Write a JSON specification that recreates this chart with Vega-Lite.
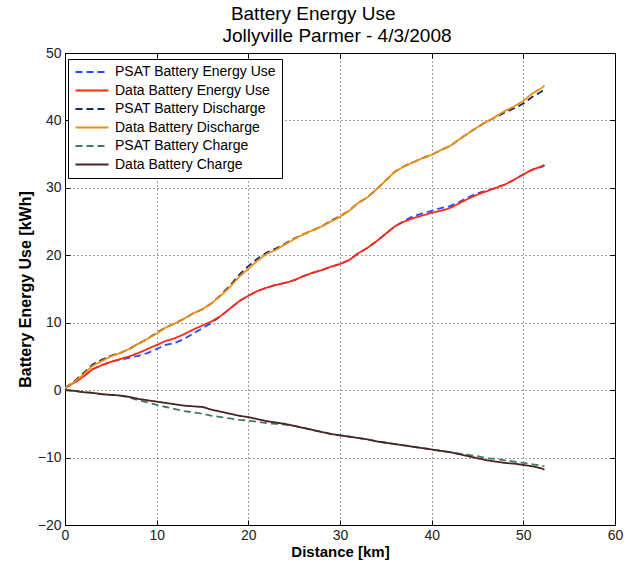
{
  "$schema": "https://vega.github.io/schema/vega-lite/v6.json",
  "width": 550,
  "height": 472,
  "autosize": {"type": "none"},
  "padding": {"left": 65, "top": 53, "right": 13, "bottom": 40},
  "background": "white",
  "title": {
    "text": ["Battery Energy Use\u2002\u2002\u2002\u2002\u2002\u2060", "Jollyville Parmer - 4/3/2008"],
    "fontSize": 19,
    "font": "Liberation Sans",
    "fontWeight": "normal",
    "color": "black",
    "lineHeight": 22,
    "offset": 0,
    "dx": -3,
    "anchor": "middle"
  },
  "config": {
    "view": {"stroke": "black", "strokeWidth": 1},
    "axis": {
      "domainColor": "black",
      "tickColor": "black",
      "tickSize": -5,
      "labelFont": "Liberation Sans",
      "labelFontSize": 14,
      "labelColor": "#222222",
      "labelFlush": false,
      "titleFont": "Liberation Sans",
      "titleFontSize": 15,
      "titleFontWeight": "bold",
      "titleColor": "black",
      "gridColor": "black",
      "gridDash": [1, 3],
      "gridOpacity": 0.75
    },
    "legend": {
      "orient": "none",
      "legendX": 3,
      "legendY": 6,
      "strokeColor": "black",
      "fillColor": "white",
      "padding": 6,
      "labelFont": "Liberation Sans",
      "labelFontSize": 14,
      "labelColor": "black",
      "labelLimit": 400,
      "symbolType": "M-1,0H5",
      "symbolSize": 121,
      "symbolStrokeWidth": 2,
      "symbolFillColor": "transparent",
      "labelOffset": 27,
      "rowPadding": 4.5
    }
  },
  "data": {
    "values": [
      {"s":"PSAT Battery Energy Use","x":0,"y":0.3},{"s":"PSAT Battery Energy Use","x":1,"y":1.1},{"s":"PSAT Battery Energy Use","x":2,"y":2.0},{"s":"PSAT Battery Energy Use","x":3,"y":3.1},{"s":"PSAT Battery Energy Use","x":4,"y":3.7},{"s":"PSAT Battery Energy Use","x":5,"y":4.2},{"s":"PSAT Battery Energy Use","x":6,"y":4.5},{"s":"PSAT Battery Energy Use","x":7,"y":4.8},{"s":"PSAT Battery Energy Use","x":8,"y":5.1},{"s":"PSAT Battery Energy Use","x":9,"y":5.5},{"s":"PSAT Battery Energy Use","x":10,"y":6.1},{"s":"PSAT Battery Energy Use","x":11,"y":6.7},{"s":"PSAT Battery Energy Use","x":12,"y":7.0},{"s":"PSAT Battery Energy Use","x":13,"y":7.6},{"s":"PSAT Battery Energy Use","x":14,"y":8.4},{"s":"PSAT Battery Energy Use","x":15,"y":9.2},{"s":"PSAT Battery Energy Use","x":16,"y":10.0},{"s":"PSAT Battery Energy Use","x":17,"y":11.0},{"s":"PSAT Battery Energy Use","x":18,"y":12.1},{"s":"PSAT Battery Energy Use","x":19,"y":13.2},{"s":"PSAT Battery Energy Use","x":20,"y":14.0},{"s":"PSAT Battery Energy Use","x":21,"y":14.7},{"s":"PSAT Battery Energy Use","x":22,"y":15.2},{"s":"PSAT Battery Energy Use","x":23,"y":15.6},{"s":"PSAT Battery Energy Use","x":24,"y":15.9},{"s":"PSAT Battery Energy Use","x":25,"y":16.3},{"s":"PSAT Battery Energy Use","x":26,"y":16.9},{"s":"PSAT Battery Energy Use","x":27,"y":17.4},{"s":"PSAT Battery Energy Use","x":28,"y":17.8},{"s":"PSAT Battery Energy Use","x":29,"y":18.3},{"s":"PSAT Battery Energy Use","x":30,"y":18.7},{"s":"PSAT Battery Energy Use","x":31,"y":19.3},{"s":"PSAT Battery Energy Use","x":32,"y":20.3},{"s":"PSAT Battery Energy Use","x":33,"y":21.1},{"s":"PSAT Battery Energy Use","x":34,"y":22.1},{"s":"PSAT Battery Energy Use","x":35,"y":23.2},{"s":"PSAT Battery Energy Use","x":36,"y":24.3},{"s":"PSAT Battery Energy Use","x":37,"y":25.1},{"s":"PSAT Battery Energy Use","x":38,"y":25.8},{"s":"PSAT Battery Energy Use","x":39,"y":26.2},{"s":"PSAT Battery Energy Use","x":40,"y":26.6},{"s":"PSAT Battery Energy Use","x":41,"y":27.0},{"s":"PSAT Battery Energy Use","x":42,"y":27.3},{"s":"PSAT Battery Energy Use","x":43,"y":27.9},{"s":"PSAT Battery Energy Use","x":44,"y":28.6},{"s":"PSAT Battery Energy Use","x":45,"y":29.2},{"s":"PSAT Battery Energy Use","x":46,"y":29.6},{"s":"PSAT Battery Energy Use","x":47,"y":30.0},{"s":"PSAT Battery Energy Use","x":48,"y":30.5},{"s":"PSAT Battery Energy Use","x":49,"y":31.2},{"s":"PSAT Battery Energy Use","x":50,"y":32.0},{"s":"PSAT Battery Energy Use","x":51,"y":32.7},{"s":"PSAT Battery Energy Use","x":52,"y":33.1},{"s":"PSAT Battery Energy Use","x":52.3,"y":33.3},
      {"s":"Data Battery Energy Use","x":0,"y":0.3},{"s":"Data Battery Energy Use","x":1,"y":1.1},{"s":"Data Battery Energy Use","x":2,"y":2.0},{"s":"Data Battery Energy Use","x":3,"y":3.1},{"s":"Data Battery Energy Use","x":4,"y":3.7},{"s":"Data Battery Energy Use","x":5,"y":4.2},{"s":"Data Battery Energy Use","x":6,"y":4.6},{"s":"Data Battery Energy Use","x":7,"y":5.0},{"s":"Data Battery Energy Use","x":8,"y":5.5},{"s":"Data Battery Energy Use","x":9,"y":6.1},{"s":"Data Battery Energy Use","x":10,"y":6.7},{"s":"Data Battery Energy Use","x":11,"y":7.3},{"s":"Data Battery Energy Use","x":12,"y":7.7},{"s":"Data Battery Energy Use","x":13,"y":8.3},{"s":"Data Battery Energy Use","x":14,"y":9.0},{"s":"Data Battery Energy Use","x":15,"y":9.6},{"s":"Data Battery Energy Use","x":16,"y":10.2},{"s":"Data Battery Energy Use","x":17,"y":11.0},{"s":"Data Battery Energy Use","x":18,"y":12.1},{"s":"Data Battery Energy Use","x":19,"y":13.2},{"s":"Data Battery Energy Use","x":20,"y":14.0},{"s":"Data Battery Energy Use","x":21,"y":14.7},{"s":"Data Battery Energy Use","x":22,"y":15.2},{"s":"Data Battery Energy Use","x":23,"y":15.6},{"s":"Data Battery Energy Use","x":24,"y":15.9},{"s":"Data Battery Energy Use","x":25,"y":16.3},{"s":"Data Battery Energy Use","x":26,"y":16.9},{"s":"Data Battery Energy Use","x":27,"y":17.4},{"s":"Data Battery Energy Use","x":28,"y":17.8},{"s":"Data Battery Energy Use","x":29,"y":18.3},{"s":"Data Battery Energy Use","x":30,"y":18.7},{"s":"Data Battery Energy Use","x":31,"y":19.3},{"s":"Data Battery Energy Use","x":32,"y":20.3},{"s":"Data Battery Energy Use","x":33,"y":21.1},{"s":"Data Battery Energy Use","x":34,"y":22.1},{"s":"Data Battery Energy Use","x":35,"y":23.2},{"s":"Data Battery Energy Use","x":36,"y":24.3},{"s":"Data Battery Energy Use","x":37,"y":25.0},{"s":"Data Battery Energy Use","x":38,"y":25.5},{"s":"Data Battery Energy Use","x":39,"y":25.9},{"s":"Data Battery Energy Use","x":40,"y":26.3},{"s":"Data Battery Energy Use","x":41,"y":26.6},{"s":"Data Battery Energy Use","x":42,"y":27.0},{"s":"Data Battery Energy Use","x":43,"y":27.7},{"s":"Data Battery Energy Use","x":44,"y":28.4},{"s":"Data Battery Energy Use","x":45,"y":29.0},{"s":"Data Battery Energy Use","x":46,"y":29.5},{"s":"Data Battery Energy Use","x":47,"y":30.0},{"s":"Data Battery Energy Use","x":48,"y":30.5},{"s":"Data Battery Energy Use","x":49,"y":31.2},{"s":"Data Battery Energy Use","x":50,"y":32.0},{"s":"Data Battery Energy Use","x":51,"y":32.7},{"s":"Data Battery Energy Use","x":52,"y":33.2},{"s":"Data Battery Energy Use","x":52.3,"y":33.4},
      {"s":"PSAT Battery Discharge","x":0,"y":0.3},{"s":"PSAT Battery Discharge","x":1,"y":1.3},{"s":"PSAT Battery Discharge","x":2,"y":2.5},{"s":"PSAT Battery Discharge","x":3,"y":3.8},{"s":"PSAT Battery Discharge","x":4,"y":4.5},{"s":"PSAT Battery Discharge","x":5,"y":5.1},{"s":"PSAT Battery Discharge","x":6,"y":5.5},{"s":"PSAT Battery Discharge","x":7,"y":6.1},{"s":"PSAT Battery Discharge","x":8,"y":6.9},{"s":"PSAT Battery Discharge","x":9,"y":7.6},{"s":"PSAT Battery Discharge","x":10,"y":8.5},{"s":"PSAT Battery Discharge","x":11,"y":9.3},{"s":"PSAT Battery Discharge","x":12,"y":9.9},{"s":"PSAT Battery Discharge","x":13,"y":10.6},{"s":"PSAT Battery Discharge","x":14,"y":11.4},{"s":"PSAT Battery Discharge","x":15,"y":12.0},{"s":"PSAT Battery Discharge","x":16,"y":12.9},{"s":"PSAT Battery Discharge","x":17,"y":14.1},{"s":"PSAT Battery Discharge","x":18,"y":15.5},{"s":"PSAT Battery Discharge","x":19,"y":17.1},{"s":"PSAT Battery Discharge","x":20,"y":18.4},{"s":"PSAT Battery Discharge","x":21,"y":19.5},{"s":"PSAT Battery Discharge","x":22,"y":20.4},{"s":"PSAT Battery Discharge","x":23,"y":21.0},{"s":"PSAT Battery Discharge","x":24,"y":21.7},{"s":"PSAT Battery Discharge","x":25,"y":22.5},{"s":"PSAT Battery Discharge","x":26,"y":23.1},{"s":"PSAT Battery Discharge","x":27,"y":23.7},{"s":"PSAT Battery Discharge","x":28,"y":24.3},{"s":"PSAT Battery Discharge","x":29,"y":25.1},{"s":"PSAT Battery Discharge","x":30,"y":25.8},{"s":"PSAT Battery Discharge","x":31,"y":26.6},{"s":"PSAT Battery Discharge","x":32,"y":27.8},{"s":"PSAT Battery Discharge","x":33,"y":28.6},{"s":"PSAT Battery Discharge","x":34,"y":29.8},{"s":"PSAT Battery Discharge","x":35,"y":31.1},{"s":"PSAT Battery Discharge","x":36,"y":32.4},{"s":"PSAT Battery Discharge","x":37,"y":33.2},{"s":"PSAT Battery Discharge","x":38,"y":33.8},{"s":"PSAT Battery Discharge","x":39,"y":34.4},{"s":"PSAT Battery Discharge","x":40,"y":34.9},{"s":"PSAT Battery Discharge","x":41,"y":35.6},{"s":"PSAT Battery Discharge","x":42,"y":36.2},{"s":"PSAT Battery Discharge","x":43,"y":37.2},{"s":"PSAT Battery Discharge","x":44,"y":38.1},{"s":"PSAT Battery Discharge","x":45,"y":39.0},{"s":"PSAT Battery Discharge","x":46,"y":39.8},{"s":"PSAT Battery Discharge","x":47,"y":40.5},{"s":"PSAT Battery Discharge","x":48,"y":41.2},{"s":"PSAT Battery Discharge","x":49,"y":41.8},{"s":"PSAT Battery Discharge","x":50,"y":42.5},{"s":"PSAT Battery Discharge","x":51,"y":43.5},{"s":"PSAT Battery Discharge","x":52,"y":44.3},{"s":"PSAT Battery Discharge","x":52.3,"y":44.7},
      {"s":"Data Battery Discharge","x":0,"y":0.3},{"s":"Data Battery Discharge","x":1,"y":1.2},{"s":"Data Battery Discharge","x":2,"y":2.3},{"s":"Data Battery Discharge","x":3,"y":3.6},{"s":"Data Battery Discharge","x":4,"y":4.3},{"s":"Data Battery Discharge","x":5,"y":5.0},{"s":"Data Battery Discharge","x":6,"y":5.5},{"s":"Data Battery Discharge","x":7,"y":6.1},{"s":"Data Battery Discharge","x":8,"y":6.9},{"s":"Data Battery Discharge","x":9,"y":7.6},{"s":"Data Battery Discharge","x":10,"y":8.4},{"s":"Data Battery Discharge","x":11,"y":9.3},{"s":"Data Battery Discharge","x":12,"y":9.9},{"s":"Data Battery Discharge","x":13,"y":10.6},{"s":"Data Battery Discharge","x":14,"y":11.4},{"s":"Data Battery Discharge","x":15,"y":12.0},{"s":"Data Battery Discharge","x":16,"y":12.9},{"s":"Data Battery Discharge","x":17,"y":14.0},{"s":"Data Battery Discharge","x":18,"y":15.3},{"s":"Data Battery Discharge","x":19,"y":16.8},{"s":"Data Battery Discharge","x":20,"y":18.0},{"s":"Data Battery Discharge","x":21,"y":19.2},{"s":"Data Battery Discharge","x":22,"y":20.2},{"s":"Data Battery Discharge","x":23,"y":20.8},{"s":"Data Battery Discharge","x":24,"y":21.6},{"s":"Data Battery Discharge","x":25,"y":22.4},{"s":"Data Battery Discharge","x":26,"y":23.1},{"s":"Data Battery Discharge","x":27,"y":23.7},{"s":"Data Battery Discharge","x":28,"y":24.3},{"s":"Data Battery Discharge","x":29,"y":25.0},{"s":"Data Battery Discharge","x":30,"y":25.7},{"s":"Data Battery Discharge","x":31,"y":26.6},{"s":"Data Battery Discharge","x":32,"y":27.8},{"s":"Data Battery Discharge","x":33,"y":28.6},{"s":"Data Battery Discharge","x":34,"y":29.8},{"s":"Data Battery Discharge","x":35,"y":31.1},{"s":"Data Battery Discharge","x":36,"y":32.4},{"s":"Data Battery Discharge","x":37,"y":33.2},{"s":"Data Battery Discharge","x":38,"y":33.8},{"s":"Data Battery Discharge","x":39,"y":34.4},{"s":"Data Battery Discharge","x":40,"y":34.9},{"s":"Data Battery Discharge","x":41,"y":35.6},{"s":"Data Battery Discharge","x":42,"y":36.2},{"s":"Data Battery Discharge","x":43,"y":37.2},{"s":"Data Battery Discharge","x":44,"y":38.1},{"s":"Data Battery Discharge","x":45,"y":39.0},{"s":"Data Battery Discharge","x":46,"y":39.8},{"s":"Data Battery Discharge","x":47,"y":40.6},{"s":"Data Battery Discharge","x":48,"y":41.4},{"s":"Data Battery Discharge","x":49,"y":42.1},{"s":"Data Battery Discharge","x":50,"y":42.9},{"s":"Data Battery Discharge","x":51,"y":44.0},{"s":"Data Battery Discharge","x":52,"y":44.8},{"s":"Data Battery Discharge","x":52.3,"y":45.2},
      {"s":"PSAT Battery Charge","x":0,"y":0},{"s":"PSAT Battery Charge","x":1,"y":-0.1},{"s":"PSAT Battery Charge","x":2,"y":-0.3},{"s":"PSAT Battery Charge","x":3,"y":-0.4},{"s":"PSAT Battery Charge","x":4,"y":-0.6},{"s":"PSAT Battery Charge","x":5,"y":-0.7},{"s":"PSAT Battery Charge","x":6,"y":-0.8},{"s":"PSAT Battery Charge","x":7,"y":-1.1},{"s":"PSAT Battery Charge","x":8,"y":-1.5},{"s":"PSAT Battery Charge","x":9,"y":-1.8},{"s":"PSAT Battery Charge","x":10,"y":-2.2},{"s":"PSAT Battery Charge","x":11,"y":-2.5},{"s":"PSAT Battery Charge","x":12,"y":-2.8},{"s":"PSAT Battery Charge","x":13,"y":-3.1},{"s":"PSAT Battery Charge","x":14,"y":-3.3},{"s":"PSAT Battery Charge","x":15,"y":-3.5},{"s":"PSAT Battery Charge","x":16,"y":-3.8},{"s":"PSAT Battery Charge","x":17,"y":-4.0},{"s":"PSAT Battery Charge","x":18,"y":-4.2},{"s":"PSAT Battery Charge","x":19,"y":-4.4},{"s":"PSAT Battery Charge","x":20,"y":-4.5},{"s":"PSAT Battery Charge","x":21,"y":-4.7},{"s":"PSAT Battery Charge","x":22,"y":-4.9},{"s":"PSAT Battery Charge","x":23,"y":-5.0},{"s":"PSAT Battery Charge","x":24,"y":-5.1},{"s":"PSAT Battery Charge","x":25,"y":-5.3},{"s":"PSAT Battery Charge","x":26,"y":-5.6},{"s":"PSAT Battery Charge","x":27,"y":-5.9},{"s":"PSAT Battery Charge","x":28,"y":-6.2},{"s":"PSAT Battery Charge","x":29,"y":-6.5},{"s":"PSAT Battery Charge","x":30,"y":-6.7},{"s":"PSAT Battery Charge","x":31,"y":-6.9},{"s":"PSAT Battery Charge","x":32,"y":-7.1},{"s":"PSAT Battery Charge","x":33,"y":-7.3},{"s":"PSAT Battery Charge","x":34,"y":-7.6},{"s":"PSAT Battery Charge","x":35,"y":-7.8},{"s":"PSAT Battery Charge","x":36,"y":-8.0},{"s":"PSAT Battery Charge","x":37,"y":-8.2},{"s":"PSAT Battery Charge","x":38,"y":-8.4},{"s":"PSAT Battery Charge","x":39,"y":-8.6},{"s":"PSAT Battery Charge","x":40,"y":-8.8},{"s":"PSAT Battery Charge","x":41,"y":-9.0},{"s":"PSAT Battery Charge","x":42,"y":-9.2},{"s":"PSAT Battery Charge","x":43,"y":-9.4},{"s":"PSAT Battery Charge","x":44,"y":-9.6},{"s":"PSAT Battery Charge","x":45,"y":-9.8},{"s":"PSAT Battery Charge","x":46,"y":-10.1},{"s":"PSAT Battery Charge","x":47,"y":-10.2},{"s":"PSAT Battery Charge","x":48,"y":-10.4},{"s":"PSAT Battery Charge","x":49,"y":-10.6},{"s":"PSAT Battery Charge","x":50,"y":-10.8},{"s":"PSAT Battery Charge","x":51,"y":-11.0},{"s":"PSAT Battery Charge","x":52,"y":-11.2},{"s":"PSAT Battery Charge","x":52.3,"y":-11.3},
      {"s":"Data Battery Charge","x":0,"y":0},{"s":"Data Battery Charge","x":1,"y":-0.1},{"s":"Data Battery Charge","x":2,"y":-0.3},{"s":"Data Battery Charge","x":3,"y":-0.4},{"s":"Data Battery Charge","x":4,"y":-0.6},{"s":"Data Battery Charge","x":5,"y":-0.7},{"s":"Data Battery Charge","x":6,"y":-0.8},{"s":"Data Battery Charge","x":7,"y":-1.0},{"s":"Data Battery Charge","x":8,"y":-1.3},{"s":"Data Battery Charge","x":9,"y":-1.5},{"s":"Data Battery Charge","x":10,"y":-1.7},{"s":"Data Battery Charge","x":11,"y":-1.9},{"s":"Data Battery Charge","x":12,"y":-2.1},{"s":"Data Battery Charge","x":13,"y":-2.3},{"s":"Data Battery Charge","x":14,"y":-2.4},{"s":"Data Battery Charge","x":15,"y":-2.5},{"s":"Data Battery Charge","x":16,"y":-2.9},{"s":"Data Battery Charge","x":17,"y":-3.2},{"s":"Data Battery Charge","x":18,"y":-3.5},{"s":"Data Battery Charge","x":19,"y":-3.8},{"s":"Data Battery Charge","x":20,"y":-4.0},{"s":"Data Battery Charge","x":21,"y":-4.3},{"s":"Data Battery Charge","x":22,"y":-4.6},{"s":"Data Battery Charge","x":23,"y":-4.8},{"s":"Data Battery Charge","x":24,"y":-5.0},{"s":"Data Battery Charge","x":25,"y":-5.3},{"s":"Data Battery Charge","x":26,"y":-5.6},{"s":"Data Battery Charge","x":27,"y":-5.9},{"s":"Data Battery Charge","x":28,"y":-6.2},{"s":"Data Battery Charge","x":29,"y":-6.5},{"s":"Data Battery Charge","x":30,"y":-6.7},{"s":"Data Battery Charge","x":31,"y":-6.9},{"s":"Data Battery Charge","x":32,"y":-7.1},{"s":"Data Battery Charge","x":33,"y":-7.3},{"s":"Data Battery Charge","x":34,"y":-7.6},{"s":"Data Battery Charge","x":35,"y":-7.8},{"s":"Data Battery Charge","x":36,"y":-8.0},{"s":"Data Battery Charge","x":37,"y":-8.2},{"s":"Data Battery Charge","x":38,"y":-8.4},{"s":"Data Battery Charge","x":39,"y":-8.6},{"s":"Data Battery Charge","x":40,"y":-8.8},{"s":"Data Battery Charge","x":41,"y":-9.0},{"s":"Data Battery Charge","x":42,"y":-9.2},{"s":"Data Battery Charge","x":43,"y":-9.5},{"s":"Data Battery Charge","x":44,"y":-9.8},{"s":"Data Battery Charge","x":45,"y":-10.1},{"s":"Data Battery Charge","x":46,"y":-10.4},{"s":"Data Battery Charge","x":47,"y":-10.6},{"s":"Data Battery Charge","x":48,"y":-10.8},{"s":"Data Battery Charge","x":49,"y":-10.9},{"s":"Data Battery Charge","x":50,"y":-11.1},{"s":"Data Battery Charge","x":51,"y":-11.3},{"s":"Data Battery Charge","x":52,"y":-11.6},{"s":"Data Battery Charge","x":52.3,"y":-11.8}
    ]
  },
  "layer": [
    {
      "mark": {"type": "line", "strokeWidth": 1.8, "clip": true},
      "encoding": {
        "x": {
          "field": "x", "type": "quantitative",
          "scale": {"domain": [0, 60], "nice": false, "zero": false},
          "axis": {"orient": "bottom", "title": "Distance [km]", "values": [0, 10, 20, 30, 40, 50, 60], "grid": true, "labelPadding": 8, "titlePadding": 2}
        },
        "y": {
          "field": "y", "type": "quantitative",
          "scale": {"domain": [-20, 50], "nice": false, "zero": false},
          "axis": {"orient": "left", "title": "Battery Energy Use [kWh]", "titleFontSize": 16, "values": [-20, -10, 0, 10, 20, 30, 40, 50], "grid": true, "labelPadding": 9, "titlePadding": 4}
        },
        "color": {
          "field": "s", "type": "nominal",
          "scale": {
            "domain": ["PSAT Battery Energy Use", "Data Battery Energy Use", "PSAT Battery Discharge", "Data Battery Discharge", "PSAT Battery Charge", "Data Battery Charge"],
            "range": ["#2149ff", "#ff2a10", "#13296b", "#f0900e", "#3a7d62", "#4d2222"]
          },
          "legend": {"title": null}
        },
        "strokeDash": {
          "field": "s", "type": "nominal",
          "scale": {
            "domain": ["PSAT Battery Energy Use", "Data Battery Energy Use", "PSAT Battery Discharge", "Data Battery Discharge", "PSAT Battery Charge", "Data Battery Charge"],
            "range": [[7, 4], [1, 0], [7, 4], [1, 0], [7, 4], [1, 0]]
          },
          "legend": {"title": null}
        }
      }
    },
    {
      "mark": {"type": "line", "opacity": 0},
      "encoding": {
        "x": {"field": "x", "type": "quantitative", "axis": {"orient": "top", "labels": false, "grid": false, "title": null, "domain": false, "values": [0, 10, 20, 30, 40, 50, 60]}},
        "y": {"field": "y", "type": "quantitative", "axis": {"orient": "right", "labels": false, "grid": false, "title": null, "domain": false, "values": [-20, -10, 0, 10, 20, 30, 40, 50]}},
        "detail": {"field": "s", "type": "nominal"}
      }
    }
  ],
  "resolve": {"axis": {"x": "independent", "y": "independent"}}
}
